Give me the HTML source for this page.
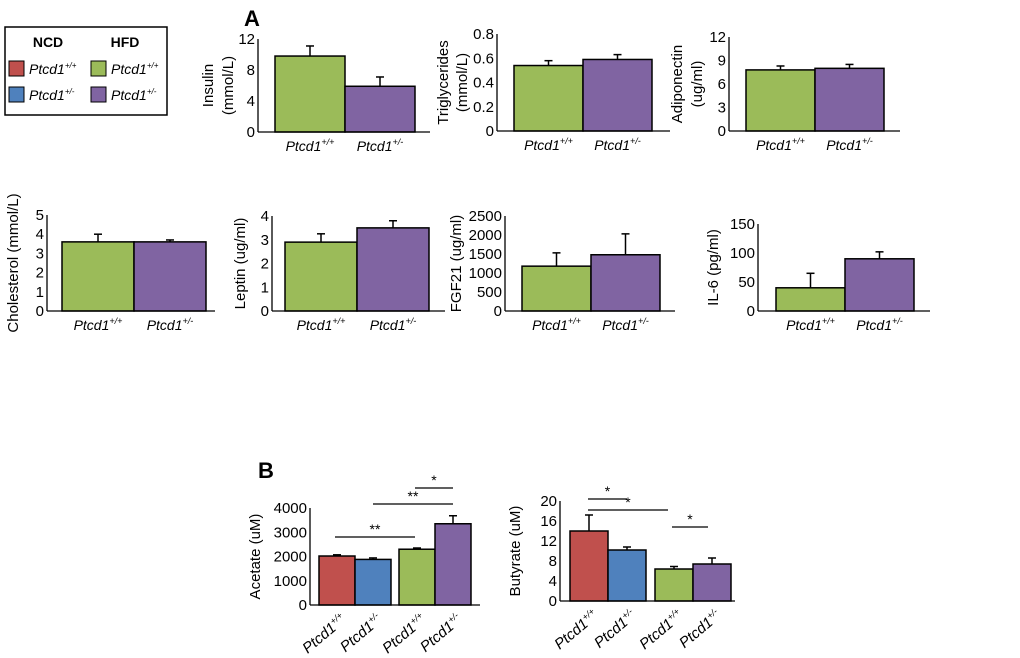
<!DOCTYPE html>
<html><head><meta charset="utf-8"><style>
body{margin:0;background:#fff;}
svg{display:block;font-family:"Liberation Sans",Arial,sans-serif;}
</style></head><body>
<svg id="fig" width="1020" height="658" viewBox="0 0 1020 658" xmlns="http://www.w3.org/2000/svg">
<text x="244" y="26" font-size="22" font-weight="bold">A</text>
<text x="258" y="478" font-size="22" font-weight="bold">B</text>
<g>
<rect x="5" y="27" width="162" height="88" fill="#fff" stroke="#000" stroke-width="1.5"/>
<text x="48" y="47" font-size="14" font-weight="bold" text-anchor="middle">NCD</text>
<text x="125" y="47" font-size="14" font-weight="bold" text-anchor="middle">HFD</text>
<rect x="9" y="61" width="15" height="15" fill="#c0504d" stroke="#000"/>
<text x="29" y="74" font-size="14" font-style="italic">Ptcd1<tspan font-size="8" dy="-6">+/+</tspan></text>
<rect x="91" y="61" width="15" height="15" fill="#9bbb59" stroke="#000"/>
<text x="111" y="74" font-size="14" font-style="italic">Ptcd1<tspan font-size="8" dy="-6">+/+</tspan></text>
<rect x="9" y="87" width="15" height="15" fill="#4f81bd" stroke="#000"/>
<text x="29" y="100" font-size="14" font-style="italic">Ptcd1<tspan font-size="8" dy="-6">+/-</tspan></text>
<rect x="91" y="87" width="15" height="15" fill="#8064a2" stroke="#000"/>
<text x="111" y="100" font-size="14" font-style="italic">Ptcd1<tspan font-size="8" dy="-6">+/-</tspan></text>
</g>
</svg>
<script>
const insulinVals=[9.8,5.9], insulinErr=[1.3,1.2], insulinTicks=[0,4,8,12];
const tgVals=[0.54,0.59], tgErr=[0.04,0.04], tgTicks=[0,0.2,0.4,0.6,0.8];
const adipoVals=[7.8,8.0], adipoErr=[0.5,0.5], adipoTicks=[0,3,6,9,12];
const cholVals=[3.6,3.6], cholErr=[0.4,0.1], cholTicks=[0,1,2,3,4,5];
const leptinVals=[2.9,3.5], leptinErr=[0.35,0.3], leptinTicks=[0,1,2,3,4];
const fgfVals=[1180,1480], fgfErr=[350,550], fgfTicks=[0,500,1000,1500,2000,2500];
const il6Vals=[40,90], il6Err=[25,12], il6Ticks=[0,50,100,150];
const acetateVals=[2020,1880,2300,3350], acetateErr=[50,60,50,330], acetateTicks=[0,1000,2000,3000,4000];
const butyrateVals=[14,10.2,6.4,7.4], butyrateErr=[3.2,0.6,0.5,1.2], butyrateTicks=[0,4,8,12,16,20];
const hfdGroups=['+/+','+/-'];
const allGroups=['+/+','+/-','+/+','+/-'];
const NS='http://www.w3.org/2000/svg';
const svg=document.getElementById('fig');
const C={r:'#c0504d',b:'#4f81bd',g:'#9bbb59',p:'#8064a2'};
function el(tag,attrs,parent){const e=document.createElementNS(NS,tag);for(const k in attrs)e.setAttribute(k,attrs[k]);(parent||svg).appendChild(e);return e;}
function chart(o){
  const g=el('g',{});
  
  
  const max=o.ticks[o.ticks.length-1];
  const y=v=>o.y0-(v/max)*(o.y0-o.yTop);
  const ax=el('line',{x1:o.ax,y1:o.yTop,x2:o.ax,y2:o.y0,stroke:'#000','stroke-width':1.3},g);
  
  
  o.ticks.forEach(t=>{
    const tl=el('text',{x:o.ax-3,y:y(t)+5,'font-size':o.fs||15,'text-anchor':'end'},g);
    tl.textContent=t;
    
    
  });
  o.vals.forEach((v,i)=>{
    const x=o.bx[i], w=o.bw;
    const top=y(v), et=y(v+o.err[i]), cx=x+w/2;
    const e1=el('line',{x1:cx,y1:top,x2:cx,y2:et,stroke:'#000','stroke-width':1.5},g);
    
    
    const e2=el('line',{x1:cx-4,y1:et,x2:cx+4,y2:et,stroke:'#000','stroke-width':1.5},g);
    
    
    const r=el('rect',{x:x,y:top,width:w,height:o.y0-top,fill:o.colors[i],stroke:'#000','stroke-width':1.5},g);
    
    
    const lx=o.rot?cx+10:cx, ly=o.y0+(o.rot?16:19);
    const t=el('text',{x:lx,y:ly,'font-size':o.rot?15:14,'font-style':'italic','text-anchor':o.rot?'end':'middle'},g);
    if(o.rot)t.setAttribute('transform','rotate(-40 '+lx+' '+ly+')');
    t.innerHTML='Ptcd1<tspan font-size="9" dy="-6">'+o.groups[i]+'</tspan>';
    
    
  });
  const bl=el('line',{x1:o.ax,y1:o.y0,x2:o.bEnd,y2:o.y0,stroke:'#000','stroke-width':1.3},g);
  
  
  o.titles.forEach((tt,j)=>{
    const tx=o.tx[j], ty=(o.yTop+o.y0)/2;
    const t=el('text',{x:tx,y:ty,'font-size':15,'text-anchor':'middle',transform:'rotate(-90 '+tx+' '+ty+')'},g);
    t.textContent=tt;
    
    
  });
  return y;
}
const GP=[C.g,C.p];
chart({name:'insulin',vals:insulinVals,err:insulinErr,ticks:insulinTicks,ax:258,yTop:39,y0:132,bx:[275,345],bw:70,bEnd:430,colors:GP,groups:hfdGroups,titles:['Insulin','(mmol/L)'],tx:[213,233]});
chart({name:'triglycerides',vals:tgVals,err:tgErr,ticks:tgTicks,ax:497,yTop:34,y0:131,bx:[514,583],bw:69,bEnd:670,colors:GP,groups:hfdGroups,titles:['Triglycerides','(mmol/L)'],tx:[448,467]});
chart({name:'adiponectin',vals:adipoVals,err:adipoErr,ticks:adipoTicks,ax:729,yTop:37,y0:131,bx:[746,815],bw:69,bEnd:900,colors:GP,groups:hfdGroups,titles:['Adiponectin','(ug/ml)'],tx:[682,702]});
chart({name:'cholesterol',vals:cholVals,err:cholErr,ticks:cholTicks,ax:47,yTop:215,y0:311,bx:[62,134],bw:72,bEnd:215,colors:GP,groups:hfdGroups,titles:['Cholesterol (mmol/L)'],tx:[18]});
chart({name:'leptin',vals:leptinVals,err:leptinErr,ticks:leptinTicks,ax:272,yTop:216,y0:311,bx:[285,357],bw:72,bEnd:445,colors:GP,groups:hfdGroups,titles:['Leptin (ug/ml)'],tx:[245]});
chart({name:'fgf21',vals:fgfVals,err:fgfErr,ticks:fgfTicks,ax:505,yTop:216,y0:311,bx:[522,591],bw:69,bEnd:675,colors:GP,groups:hfdGroups,titles:['FGF21 (ug/ml)'],tx:[461]});
chart({name:'il6',vals:il6Vals,err:il6Err,ticks:il6Ticks,ax:758,yTop:224,y0:311,bx:[776,845],bw:69,bEnd:930,colors:GP,groups:hfdGroups,titles:['IL-6  (pg/ml)'],tx:[718]});
const ya=chart({name:'acetate',vals:acetateVals,err:acetateErr,ticks:acetateTicks,ax:310,yTop:508,y0:605,bx:[319,355,399,435],bw:36,bEnd:480,colors:[C.r,C.b,C.g,C.p],groups:allGroups,titles:['Acetate (uM)'],tx:[260],rot:true});
const yb=chart({name:'butyrate',vals:butyrateVals,err:butyrateErr,ticks:butyrateTicks,ax:560,yTop:501,y0:601,bx:[570,608,655,693],bw:38,bEnd:735,colors:[C.r,C.b,C.g,C.p],groups:allGroups,titles:['Butyrate (uM)'],tx:[520],rot:true});
function sig(name,x1,x2,ly,label){
  const l=el('line',{x1:x1,y1:ly,x2:x2,y2:ly,stroke:'#000','stroke-width':1.2});
  
  
  const t=el('text',{x:(x1+x2)/2,y:ly-3,'font-size':14,'text-anchor':'middle'});
  t.textContent=label;
  
  
}
sig('acetate-sig-1',335,415,537,'**');
sig('acetate-sig-2',373,453,504,'**');
sig('acetate-sig-3',415,453,488,'*');
sig('butyrate-sig-1',588,627,499,'*');
sig('butyrate-sig-2',588,668,510,'*');
sig('butyrate-sig-3',672,708,527,'*');
</script>
</body></html>
